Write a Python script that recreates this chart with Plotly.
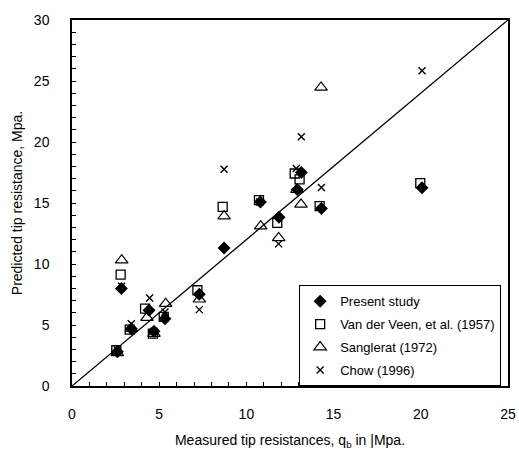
import plotly.graph_objects as go

# Present study
ps_x = [2.83, 2.6, 3.4, 4.42, 4.7, 5.33, 7.3, 8.72, 10.8, 11.87, 12.92, 13.15, 14.3, 20.07]
ps_y = [8.0, 2.8, 4.7, 6.21, 4.48, 5.52, 7.52, 11.32, 15.09, 13.84, 16.11, 17.5, 14.55, 16.24]
# Van der Veen
vv_x = [2.79, 2.54, 3.31, 4.19, 4.64, 5.26, 7.19, 8.64, 10.72, 11.77, 12.77, 13.05, 14.2, 19.97]
vv_y = [9.13, 2.93, 4.62, 6.34, 4.29, 5.66, 7.85, 14.68, 15.23, 13.37, 17.42, 16.93, 14.74, 16.63]
# Sanglerat
sg_x = [2.85, 2.6, 3.4, 4.3, 4.7, 5.37, 7.3, 8.72, 10.82, 11.85, 12.9, 13.13, 14.28]
sg_y = [10.31, 2.71, 4.7, 5.61, 4.29, 6.75, 7.11, 13.92, 13.1, 12.14, 16.1, 14.88, 24.47]
# Chow
ch_x = [2.85, 2.6, 3.4, 4.45, 4.7, 5.33, 7.3, 8.72, 10.76, 11.85, 12.86, 13.15, 14.3, 20.07]
ch_y = [8.18, 2.93, 5.11, 7.22, 4.48, 6.07, 6.26, 17.77, 15.09, 11.65, 17.83, 20.43, 16.27, 25.84]

line_x = [0, 25]
line_y = [0, 30]

x_ticks = [0, 5, 10, 15, 20, 25]
y_ticks = [0, 5, 10, 15, 20, 25, 30]

FONT = "Liberation Sans, Arial, sans-serif"

fig = go.Figure()
fig.add_trace(go.Scatter(x=line_x, y=line_y, mode="lines", line=dict(color="black", width=1.3),
                         showlegend=False, hoverinfo="skip"))
fig.add_trace(go.Scatter(x=ps_x, y=ps_y, mode="markers", name="Present study", legendgroup="a",
                         marker=dict(symbol="diamond", size=10, color="black", line=dict(width=0))))
fig.add_trace(go.Scatter(x=vv_x, y=vv_y, mode="markers", name="Van der Veen, et al. (1957)", legendgroup="b",
                         marker=dict(symbol="square-open", size=9, color="black", line=dict(width=1.3))))
fig.add_trace(go.Scatter(x=sg_x, y=sg_y, mode="markers", name="Sanglerat (1972)", legendgroup="c",
                         marker=dict(symbol="triangle-up-open", size=11, color="black", line=dict(width=1.2))))
fig.add_trace(go.Scatter(x=ch_x, y=ch_y, mode="markers", name="Chow (1996)", legendgroup="d",
                         marker=dict(symbol="x-thin-open", size=7, color="black", line=dict(width=1.4))))

axis_common = dict(
    showgrid=False, zeroline=False, showline=True, linecolor="black", linewidth=1.5, mirror=True,
    ticks="inside", ticklen=4, tickcolor="black", tickwidth=1, automargin=False,
    minor=dict(ticks="inside", ticklen=4, tickcolor="black", dtick=1, tickwidth=1),
    tickfont=dict(family=FONT, size=14, color="black"),
)

fig.update_xaxes(range=[0, 25], tickvals=x_ticks, ticklabelstandoff=14,
                 title=dict(text="Measured tip resistances, q<sub>b</sub> in |Mpa.",
                            font=dict(family=FONT, size=14, color="black"), standoff=15),
                 **axis_common)
fig.update_yaxes(range=[0, 30], tickvals=y_ticks, ticklabelstandoff=18,
                 title=dict(text="Predicted tip resistance, Mpa.",
                            font=dict(family=FONT, size=14, color="black"), standoff=8),
                 **axis_common)

fig.update_layout(
    width=519, height=460,
    margin=dict(l=72, r=11, t=20, b=74, autoexpand=False),
    plot_bgcolor="white", paper_bgcolor="white",
    font=dict(family=FONT, color="black"),
    legend=dict(x=0.521, y=0.275, xanchor="left", yanchor="top",
                bgcolor="white", bordercolor="black", borderwidth=1,
                font=dict(family=FONT, size=13, color="black"),
                itemwidth=30, tracegroupgap=3),
)

fig.write_html("out.html", config={"displayModeBar": False},
               post_script="document.body.style.margin='0';document.body.style.padding='0';")
